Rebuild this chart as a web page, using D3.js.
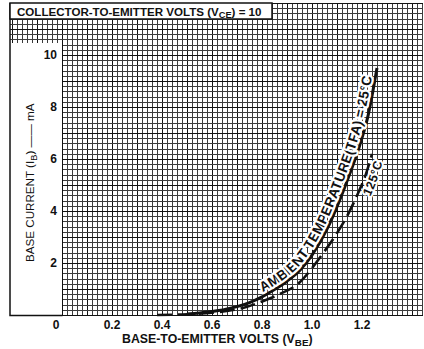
<!DOCTYPE html>
<html>
<head>
<meta charset="utf-8">
<script src="https://cdn.jsdelivr.net/npm/d3@7"></script>
<style>
  html, body { margin: 0; padding: 0; background: #fff; }
  svg { display: block; font-family: "Liberation Sans", Arial, sans-serif; }
  .grid line { shape-rendering: crispEdges; }
  .tick-label { font-size: 12px; font-weight: bold; fill: #111; }
  .halo { paint-order: stroke; stroke: #fff; stroke-linejoin: round; }
</style>
</head>
<body>
<div id="chart"></div>
<script>
// values
const vbeTicks = [0, 0.2, 0.4, 0.6, 0.8, 1.0, 1.2];
const vbeTickLabels = ['0', '0.2', '0.4', '0.6', '0.8', '1.0', '1.2'];
const ibTicks = [2, 4, 6, 8, 10];

// ambient temperature 25 °C (solid)
const vbe25 = [0.50, 0.55, 0.62, 0.70, 0.75, 0.80, 0.85, 0.90, 0.95, 1.00, 1.06, 1.11, 1.15, 1.19, 1.225, 1.26];
const ib25 = [0.04, 0.08, 0.16, 0.32, 0.48, 0.70, 0.98, 1.30, 1.70, 2.30, 3.30, 4.40, 5.40, 6.50, 7.70, 9.50];

// 125 °C (dashed)
const vbe125 = [0.38, 0.48, 0.56, 0.64, 0.72, 0.80, 0.87, 0.95, 1.00, 1.05, 1.10, 1.14, 1.185, 1.215, 1.24];
const ib125 = [0.00, 0.02, 0.06, 0.13, 0.26, 0.52, 0.80, 1.25, 1.80, 2.45, 3.15, 3.80, 4.70, 5.40, 6.20];

const label25Parts = ['AMBIENT TEMPERATURE ', '(TFA) = 25°C'];

const width = 424;
const height = 349;

const svg = d3.select('#chart')
  .append('svg')
  .attr('width', width)
  .attr('height', height)
  .attr('viewBox', `0 0 ${width} ${height}`);

const x = d3.scaleLinear().domain([0, 1.44]).range([62, 422]);
const y = d3.scaleLinear().domain([0, 12]).range([315, 3]);

const px = v => Math.round(x(v)) + 0.5;
const py = v => Math.round(y(v)) + 0.5;

// grid: 0.02 V by 0.2 mA, heavier every 0.1 V / 1 mA
const grid = svg.append('g').attr('class', 'grid');
const wideBand = 10.5; // the grid runs left to the frame above this
const vSteps = d3.range(-10, 73).map(i => i / 50);
const iSteps = d3.range(0, 61).map(i => i / 5);

const isMajorV = (d, i) => Math.abs(i - 10) % 5 === 0;
const isMajorI = (d, i) => i % 5 === 0;

grid.selectAll('.v')
  .data(vSteps)
  .join('line')
  .attr('x1', d => px(d))
  .attr('x2', d => px(d))
  .attr('y1', d => (d < 0 ? py(wideBand) : py(0)))
  .attr('y2', py(12))
  .attr('stroke', (d, i) => (isMajorV(d, i) ? '#111' : '#3c3c3c'))
  .attr('stroke-width', (d, i) => (isMajorV(d, i) ? 1.6 : 1));

grid.selectAll('.h')
  .data(iSteps)
  .join('line')
  .attr('y1', d => py(d))
  .attr('y2', d => py(d))
  .attr('x1', d => (d >= wideBand - 1e-9 ? 10 : px(0)))
  .attr('x2', px(1.44))
  .attr('stroke', (d, i) => (isMajorI(d, i) ? '#111' : '#3c3c3c'))
  .attr('stroke-width', (d, i) => (isMajorI(d, i) ? 1.6 : 1));

// left frame
svg.append('path')
  .attr('d', `M10,3 V${py(0)} H${px(0)}`)
  .attr('fill', 'none')
  .attr('stroke', '#111')
  .attr('stroke-width', 1.5);

// curves
const line = d3.line()
  .x(d => x(d[0]))
  .y(d => y(d[1]))
  .curve(d3.curveMonotoneX);

const pts25 = vbe25.map((v, i) => [v, ib25[i]]);
const pts125 = vbe125.map((v, i) => [v, ib125[i]]);

svg.append('path')
  .attr('d', line(pts125))
  .attr('fill', 'none')
  .attr('stroke', '#111')
  .attr('stroke-width', 2.6)
  .attr('stroke-dasharray', '15,6');

svg.append('path')
  .attr('d', line(pts25))
  .attr('fill', 'none')
  .attr('stroke', '#111')
  .attr('stroke-width', 3);

// curve labels along the curves
const defs = svg.append('defs');
const labelPath25 = defs.append('path')
  .attr('id', 'label25')
  .attr('d', line(pts25.filter(d => d[0] >= 0.79)));
defs.append('path')
  .attr('id', 'label125')
  .attr('d', line(pts125.filter(d => d[0] >= 1.1)));

const len25 = labelPath25.node().getTotalLength();

function pathLabel(text, href, offset, size, dy, halo) {
  const t = svg.append('text')
    .attr('class', 'halo')
    .attr('font-size', size)
    .attr('font-weight', 'bold')
    .attr('fill', '#111')
    .attr('stroke-width', halo)
    .attr('dy', dy);
  t.append('textPath')
    .attr('href', href)
    .attr('startOffset', offset)
    .text(text);
  return t;
}

// size the 25 °C label so that it runs along the whole upper curve
const probe = pathLabel(label25Parts.join(''), '#label25', 0, 12, 0, 0);
const size25 = 12 * (len25 - 8) / probe.node().getComputedTextLength();
probe.remove();

const part1 = pathLabel(label25Parts[0], '#label25', 3, size25, -3.5, 4.5);
const part1Len = part1.node().getComputedTextLength();
pathLabel(label25Parts[1], '#label25', 3 + part1Len, size25, -3.5, 4.5);

const label125 = pathLabel('125°C', '#label125', 47, 12, 12.5, 4);
label125.attr('font-size', 12 * 35 / label125.node().getComputedTextLength());

// title box
svg.append('rect')
  .attr('x', 10)
  .attr('y', 3)
  .attr('width', 262)
  .attr('height', 16)
  .attr('fill', '#fff')
  .attr('stroke', '#111')
  .attr('stroke-width', 1.5);

function fitWidth(sel, target) {
  const size = parseFloat(sel.attr('font-size'));
  const w = sel.node().getBBox().width;
  sel.attr('font-size', size * target / w);
}

const title = svg.append('text')
  .attr('x', 17)
  .attr('y', 15.5)
  .attr('font-size', 12)
  .attr('font-weight', 'bold')
  .attr('fill', '#111');
title.append('tspan').text('COLLECTOR-TO-EMITTER VOLTS (V');
title.append('tspan').attr('dy', 2.5).attr('font-size', '0.8em').text('CE');
title.append('tspan').attr('dy', -2.5).text(') = 10');
fitWidth(title, 245);

// x tick labels
svg.append('g')
  .selectAll('text')
  .data(vbeTicks)
  .join('text')
  .attr('class', 'tick-label')
  .attr('x', d => (d === 0 ? x(d) - 6 : x(d)))
  .attr('y', 329)
  .attr('text-anchor', 'middle')
  .text((d, i) => vbeTickLabels[i]);

// y tick labels
svg.append('g')
  .selectAll('text')
  .data(ibTicks)
  .join('text')
  .attr('class', 'tick-label')
  .attr('x', 57)
  .attr('y', d => y(d))
  .attr('dy', '0.36em')
  .attr('text-anchor', 'end')
  .text(d => d);

// axis titles
const xTitle = svg.append('text')
  .attr('x', 122)
  .attr('y', 343)
  .attr('font-size', 11.5)
  .attr('font-weight', 'bold')
  .attr('fill', '#111');
xTitle.append('tspan').text('BASE-TO-EMITTER VOLTS (V');
xTitle.append('tspan').attr('dy', 2.5).attr('font-size', '0.8em').text('BE');
xTitle.append('tspan').attr('dy', -2.5).text(')');
fitWidth(xTitle, 191);

const yTitle = svg.append('text')
  .attr('transform', 'translate(34,262) rotate(-90)')
  .attr('font-size', 11.5)
  .attr('fill', '#111');
yTitle.append('tspan').text('BASE CURRENT (I');
yTitle.append('tspan').attr('dy', 2.5).attr('font-size', '0.8em').text('B');
yTitle.append('tspan').attr('dy', -2.5).text(') —— mA');
fitWidth(yTitle, 159);
</script>
</body>
</html>
